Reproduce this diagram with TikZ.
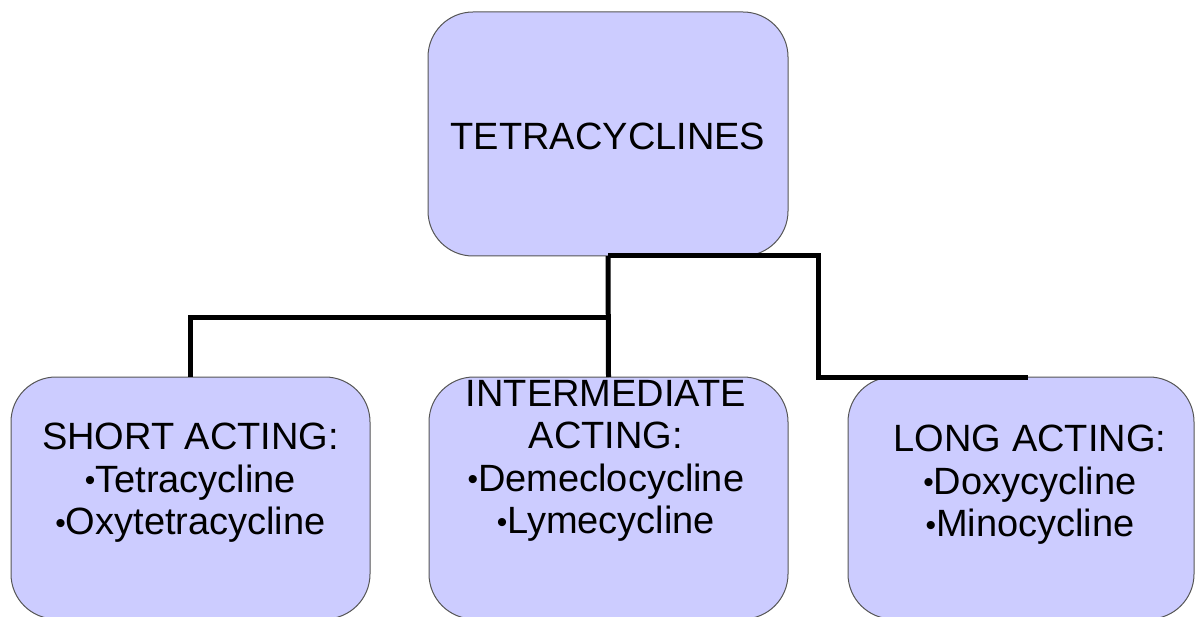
\documentclass[tikz,border=0pt]{standalone}
\usepackage{fontspec}
\setmainfont{Liberation Sans}
\definecolor{boxfill}{HTML}{CCCCFF}
\definecolor{boxline}{HTML}{555555}
\newcommand{\mybul}{{\fontsize{30}{30}\selectfont\raisebox{1.5pt}{•}}}
\begin{document}
\begin{tikzpicture}[x=1pt,y=-1pt,
  box/.style={draw=boxline,line width=1pt,fill=boxfill,rounded corners=45pt,
    inner sep=0pt,outer sep=0pt},
  lbl/.style={align=center,inner sep=0pt,font=\fontsize{38}{42.5}\selectfont},
  conn/.style={line width=5pt,black}]
\useasboundingbox (0,0) rectangle (1198,617);
\node[box,minimum width=360pt,minimum height=244pt] (top) at (608,134) {};
\node[box,minimum width=359pt,minimum height=242pt] (short) at (190.5,498) {};
\node[box,minimum width=359pt,minimum height=242pt] (mid) at (608.5,498) {};
\node[box,minimum width=346pt,minimum height=242pt] (long) at (1021,498) {};
\node[lbl] (toptxt) at (608,136) {TETRACYCLINES};
\node[lbl] (shorttxt) at (190.5,483) {SHORT ACTING:\\\mybul Tetracycline\\\mybul Oxytetracycline};
\node[lbl] (midtxt) at (606,461) {INTERMEDIATE\\ACTING:\\\mybul Demeclocycline\\\mybul Lymecycline};
\node[lbl] (longtxt) at (1030,485) {LONG ACTING:\\\mybul Doxycycline\\\mybul Minocycline};
\coordinate (j1) at (608.5,317);
\coordinate (r1) at (818,377);
\coordinate (r2) at (1028,377);
\draw[conn] (top.south) -- (mid.north);
\draw[conn] (j1) -| (short.north);
\draw[conn] (top.south) -| (r1) -- (r2);
\end{tikzpicture}
\end{document}
